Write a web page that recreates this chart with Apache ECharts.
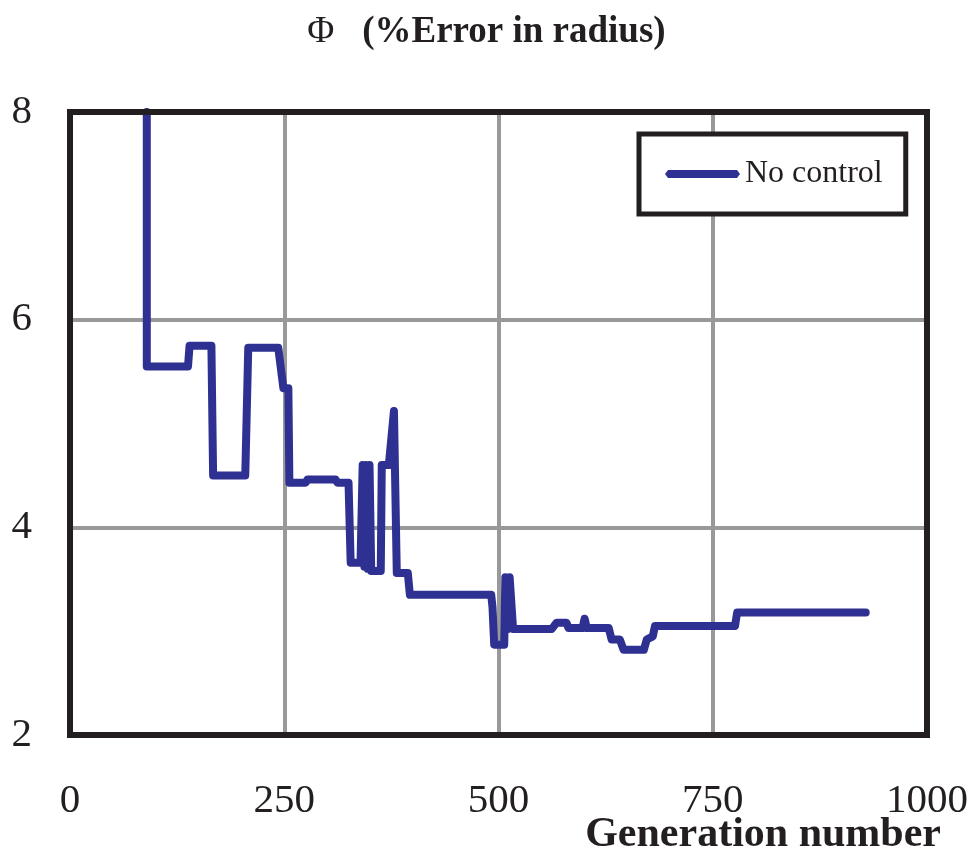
<!DOCTYPE html>
<html>
<head>
<meta charset="utf-8">
<script src="https://cdn.jsdelivr.net/npm/echarts@6/dist/echarts.min.js"></script>
<style>html,body{margin:0;padding:0;background:#fff;}#c{width:973px;height:861px;}</style>
</head>
<body>
<div id="c"></div>
<script>
const seriesName = 'No control';
const generations = [89.6, 89.6, 137.7, 139.5, 165, 167, 204.5, 208, 243, 249, 254.8, 256, 275, 277, 310, 312, 325, 327.5, 339, 341.5, 343.5, 345.5, 347.5, 349.5, 351.5, 362.6, 363.8, 372, 378, 381.3, 394.2, 396.6, 491.5, 493, 495, 506.7, 508, 511, 513, 517, 562, 567.6, 579.4, 581.7, 598, 600.5, 603, 628.6, 632, 641.5, 646, 669.6, 673, 680, 682.6, 776, 778.5, 928.5];
const errors = [8.0, 5.55, 5.55, 5.75, 5.75, 4.50, 4.50, 5.73, 5.73, 5.34, 5.34, 4.43, 4.43, 4.46, 4.46, 4.43, 4.43, 3.66, 3.66, 4.60, 3.62, 4.60, 3.60, 4.60, 3.58, 3.58, 4.60, 4.60, 5.12, 3.56, 3.56, 3.35, 3.35, 3.23, 2.87, 2.87, 3.52, 3.02, 3.52, 3.02, 3.02, 3.08, 3.08, 3.03, 3.03, 3.12, 3.03, 3.03, 2.92, 2.92, 2.82, 2.82, 2.92, 2.95, 3.05, 3.05, 3.18, 3.18];
const xTicks = [0, 250, 500, 750, 1000];
const yTicks = [2, 4, 6, 8];

const points = generations.map((g, i) => [g, errors[i]]);
const serif = 'Liberation Serif';

const chart = echarts.init(document.getElementById('c'), null, {renderer: 'canvas'});
chart.setOption({
  backgroundColor: '#ffffff',
  animation: false,
  title: [
    {text: '{p|Φ}   (%Error in radius)', left: 'center', top: 9,
     textStyle: {fontFamily: serif, fontWeight: 'bold', fontSize: 37, color: '#231f20',
       rich: {p: {fontFamily: serif, fontWeight: 'normal', fontSize: 37, color: '#231f20'}}}},
    {text: 'Generation number', right: 27, top: 809,
     textStyle: {fontFamily: serif, fontWeight: 'bold', fontSize: 42, color: '#231f20'}}
  ],
  legend: {
    data: [{name: seriesName, icon: 'path://M0,4 L3,0 L72,0 L75,4 L72,8 L3,8 Z'}],
    left: 639, top: 134,
    padding: [24, 23, 24, 26],
    itemWidth: 75, itemHeight: 8,
    backgroundColor: '#ffffff',
    borderColor: '#231f20', borderWidth: 5, borderRadius: 0,
    textStyle: {fontFamily: serif, fontSize: 32, color: '#231f20', padding: [0, 0, 0, 0]},
    z: 20
  },
  grid: {
    left: 70, right: 46, top: 112, bottom: 126,
    show: true, borderColor: '#231f20', borderWidth: 6, backgroundColor: 'transparent',
    z: 10
  },
  xAxis: {
    type: 'value', min: xTicks[0], max: xTicks[xTicks.length - 1], interval: 250,
    axisLine: {show: false}, axisTick: {show: false},
    axisLabel: {margin: 46, fontFamily: serif, fontSize: 41, color: '#231f20',
      formatter: v => xTicks.includes(v) ? String(v) : ''},
    splitLine: {show: true, lineStyle: {color: '#999999', width: 4}}
  },
  yAxis: {
    type: 'value', min: yTicks[0], max: yTicks[yTicks.length - 1], interval: 2,
    axisLine: {show: false}, axisTick: {show: false},
    axisLabel: {margin: 38, fontFamily: serif, fontSize: 41, color: '#231f20',
      formatter: v => yTicks.includes(v) ? String(v) : ''},
    splitLine: {show: true, lineStyle: {color: '#999999', width: 4}}
  },
  series: [{
    name: seriesName, type: 'line', data: points,
    showSymbol: false, symbol: 'none', clip: true,
    lineStyle: {color: '#2e3192', width: 8, join: 'round', cap: 'round'},
    itemStyle: {color: '#2e3192'}, z: 3
  }]
});
</script>
</body>
</html>
